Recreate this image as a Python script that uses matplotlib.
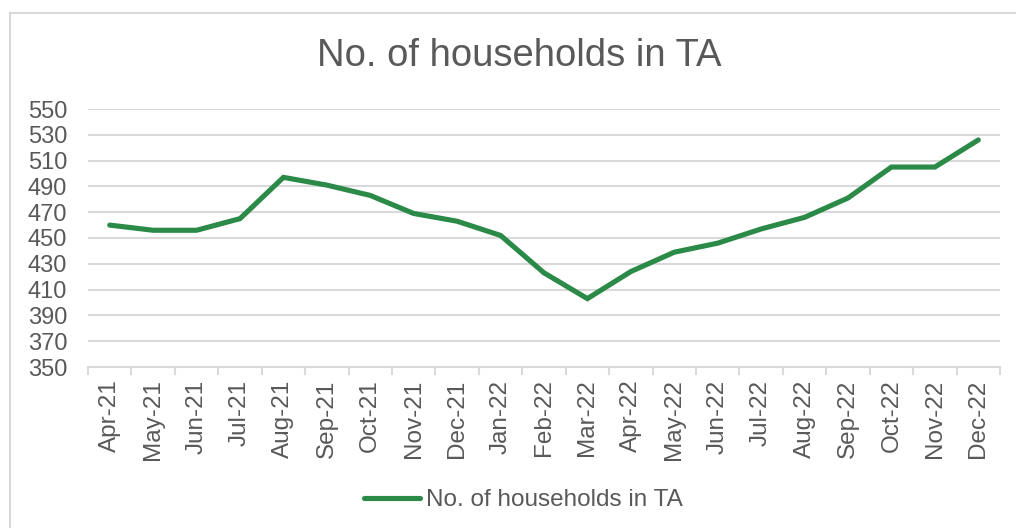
import matplotlib
matplotlib.use("Agg")
import matplotlib.pyplot as plt
from matplotlib.lines import Line2D

months = ["Apr-21", "May-21", "Jun-21", "Jul-21", "Aug-21", "Sep-21", "Oct-21",
          "Nov-21", "Dec-21", "Jan-22", "Feb-22", "Mar-22", "Apr-22", "May-22",
          "Jun-22", "Jul-22", "Aug-22", "Sep-22", "Oct-22", "Nov-22", "Dec-22"]
households = [460, 456, 456, 465, 497, 491, 483, 469, 463, 452, 423, 403,
              424, 439, 446, 457, 466, 481, 505, 505, 526]
yticks = [350, 370, 390, 410, 430, 450, 470, 490, 510, 530, 550]
title = "No. of households in TA"
series_name = "No. of households in TA"

plt.rcParams['font.family'] = ['Liberation Sans', 'DejaVu Sans']
txt = '#595959'
green = '#2B8A47'
grid = '#D9D9D9'

W, H = 1016, 528
fig = plt.figure(figsize=(W / 100, H / 100), dpi=100)
ax = fig.add_axes([88 / W, 1 - 367 / H, (1000 - 88) / W, (367 - 109) / H])

x = list(range(len(months)))
ax.plot(x, households, color=green, linewidth=3.7, solid_joinstyle='miter',
        solid_capstyle='round')
ax.set_xlim(-0.5, len(months) - 0.5)
ax.set_ylim(350, 550)
ax.set_yticks(yticks)
ax.set_yticklabels([str(v) for v in yticks])
ax.yaxis.grid(True, color=grid, linewidth=1.5)
ax.set_axisbelow(True)

ax.set_xticks(x)
ax.set_xticklabels(months, rotation=90)
ax.set_xticks([i - 0.5 for i in range(len(months) + 1)], minor=True)
ax.tick_params(axis='x', which='major', length=0, pad=9, labelsize=17.5, labelcolor=txt)
ax.tick_params(axis='x', which='minor', length=6, width=1.5, color=grid)
ax.tick_params(axis='y', length=0, pad=15, labelsize=17, labelcolor=txt)

for s in ['top', 'right', 'left']:
    ax.spines[s].set_visible(False)
ax.spines['bottom'].set_color(grid)
ax.spines['bottom'].set_linewidth(1.5)

fig.text(519 / W, 1 - 56 / H, title, ha='center', va='center', fontsize=27.5, color=txt)

handle = Line2D([], [], color=green, linewidth=3.7, solid_capstyle='round')
fig.legend([handle], [series_name], loc='center', bbox_to_anchor=(523 / W, 1 - 500 / H),
           frameon=False, fontsize=17.5, labelcolor=txt, handlelength=2.3,
           handletextpad=0.25)

# chart border (left and top visible)
fig.add_artist(Line2D([10 / W, 10 / W], [0, 1 - 13 / H], transform=fig.transFigure,
                      color=grid, linewidth=1.5))
fig.add_artist(Line2D([10 / W, 1], [1 - 13 / H, 1 - 13 / H], transform=fig.transFigure,
                      color=grid, linewidth=1.5))

fig.savefig("out.png", dpi=100)
